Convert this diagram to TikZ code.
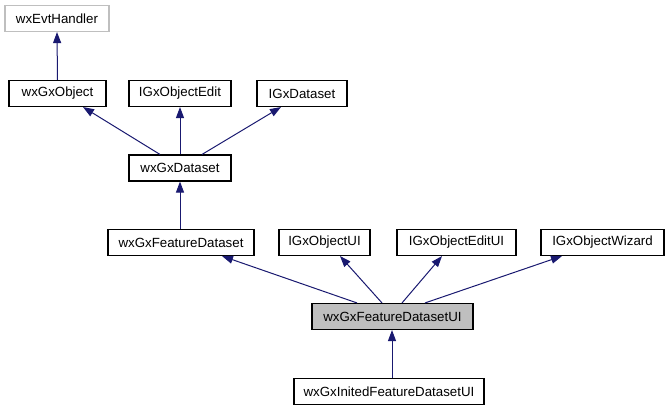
\documentclass[tikz,border=0pt]{standalone}
\usepackage{fontspec}
\setmainfont{Liberation Sans}
\usetikzlibrary{arrows.meta}
\definecolor{edgeblue}{RGB}{25,25,112}
\definecolor{boxgray}{RGB}{191,191,191}
\tikzset{
  cls/.style={draw=black, line width=1.1pt, fill=white, inner sep=0pt, minimum height=26pt,
    font=\fontsize{13.3pt}{15pt}\selectfont, text=black},
  ext/.style={cls, draw=boxgray},
  cur/.style={cls, fill=boxgray},
  inh/.style={draw=edgeblue, line width=1pt, -{Triangle[length=11pt,width=8pt]}},
}
\begin{document}
\begin{tikzpicture}[x=1pt,y=-1pt]
\useasboundingbox (0,0) rectangle (669,411);
\node[ext, minimum width=104pt] (evt) at (57,18.5) {wxEvtHandler};
\node[cls, minimum width=97pt] (obj) at (57.5,93.5) {wxGxObject};
\node[cls, minimum width=102pt] (objedit) at (180,93.5) {IGxObjectEdit};
\node[cls, minimum width=90pt] (igxds) at (302,93.5) {IGxDataset};
\node[cls, minimum width=102pt] (wxds) at (180,168) {wxGxDataset};
\node[cls, minimum width=146pt] (fds) at (181,242.5) {wxGxFeatureDataset};
\node[cls, minimum width=91pt] (objui) at (324.5,242.5) {IGxObjectUI};
\node[cls, minimum width=119pt] (objeditui) at (456.5,242.5) {IGxObjectEditUI};
\node[cls, minimum width=123pt] (wizard) at (602.5,242.5) {IGxObjectWizard};
\node[cur, minimum width=161pt] (fdsui) at (392.5,316.5) {wxGxFeatureDatasetUI};
\node[cls, minimum width=190pt] (inited) at (389,391.5) {wxGxInitedFeatureDatasetUI};

\draw[inh] (obj.north) -- (evt.south);
\draw[inh] ([xshift=-20pt]wxds.north) -- ([xshift=25.5pt]obj.south);
\draw[inh] (wxds.north) -- (objedit.south);
\draw[inh] ([xshift=22pt]wxds.north) -- ([xshift=-21pt]igxds.south);
\draw[inh] ([xshift=-1pt]fds.north) -- (wxds.south);
\draw[inh] ([xshift=-35.5pt]fdsui.north) -- ([xshift=41pt]fds.south);
\draw[inh] ([xshift=-10.5pt]fdsui.north) -- ([xshift=15.5pt]objui.south);
\draw[inh] ([xshift=9.5pt]fdsui.north) -- ([xshift=-14.5pt]objeditui.south);
\draw[inh] ([xshift=32.5pt]fdsui.north) -- ([xshift=-40.5pt]wizard.south);
\draw[inh] ([xshift=3pt]inited.north) -- ([xshift=-0.5pt]fdsui.south);
\end{tikzpicture}
\end{document}
